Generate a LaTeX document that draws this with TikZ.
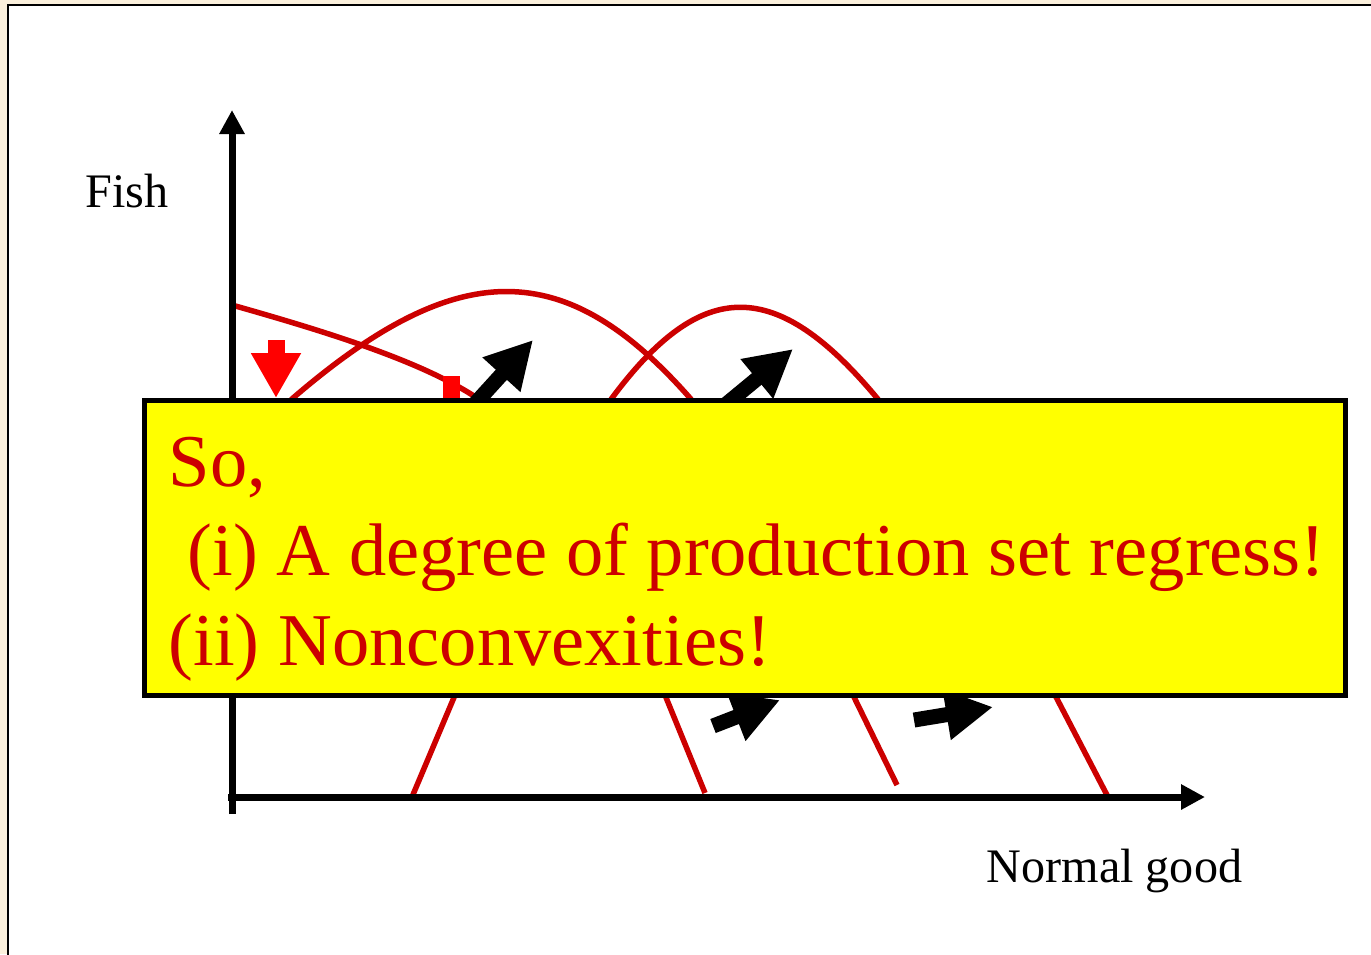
\documentclass[tikz,border=0pt]{standalone}
\usepackage{fontspec}
\setmainfont{Liberation Serif}
\usepackage{tikz}
\usetikzlibrary{arrows.meta}
\definecolor{cream}{HTML}{FBF0DC}
\definecolor{setred}{HTML}{CC0000}
\definecolor{notebg}{RGB}{255,255,0}
\definecolor{dropred}{RGB}{255,0,0}
\tikzset{
  axisline/.style={line width=0.7mm,-{Triangle[length=2.4mm,width=2.4mm]}},
  frontier/.style={setred,line width=0.55mm},
  shiftarrow/.style={line width=1.5mm,-{Triangle[length=4.7mm,width=4.8mm]}},
  droparrow/.style={dropred,line width=1.7mm,-{Triangle[length=4.5mm,width=4.7mm]}},
  boxline/.style={setred,anchor=base west,inner sep=0pt,font=\fontsize{21.2}{25}\selectfont}
}
\begin{document}
\begin{tikzpicture}[x=0.1mm,y=-0.1mm,font=\fontsize{13.7}{16}\selectfont]
\useasboundingbox (0,0) rectangle (1371,954);
\fill[cream] (0,0) rectangle (1371,954);
\draw[fill=white,line width=0.2mm] (8,5) rectangle (1420,1000);
% production sets
\draw[frontier] (232,305) .. controls (320,330) and (420,360) .. (477,398)
  .. controls (560,460) and (630,600) .. (665,695) -- (705,793);
\draw[frontier] (262,428) -- (293,398) .. controls (458,256) and (565,256) .. (690,398)
  .. controls (760,490) and (820,620) .. (853,695) -- (897,785);
\draw[frontier] (412,797) -- (455,695) .. controls (500,600) and (560,470) .. (612,398)
  .. controls (702,277) and (776,277) .. (877,398)
  .. controls (940,480) and (1010,600) .. (1055,695) -- (1108,797);
% shifts
\draw[droparrow] (276,340) -- (276,398);
\draw[droparrow] (451,376) -- (451,470);
\draw[shiftarrow] (472,407) -- (533,340);
\draw[shiftarrow] (724,406) -- (793,349);
\draw[shiftarrow] (713,726) -- (780,700);
\draw[shiftarrow] (914,720) -- (993,707);
% axes
\coordinate (O) at (232,797);
\draw[axisline] (232,814) -- (232,110);
\draw[axisline] (228,797) -- (1205,797);
\node[anchor=base west,inner sep=0pt] (ylab) at (85,207) {Fish};
\node[anchor=base west,inner sep=0pt] (xlab) at (986,882) {Normal good};
% summary box
\draw[fill=notebg,line width=0.5mm] (144,400) rectangle (1345,695);
\node[boxline] (l1) at (168,486) {So,};
\node[boxline] (l2) at (187,575) {(i) A degree of production set regress!};
\node[boxline] (l3) at (168,665) {(ii) Nonconvexities!};
\end{tikzpicture}
\end{document}
